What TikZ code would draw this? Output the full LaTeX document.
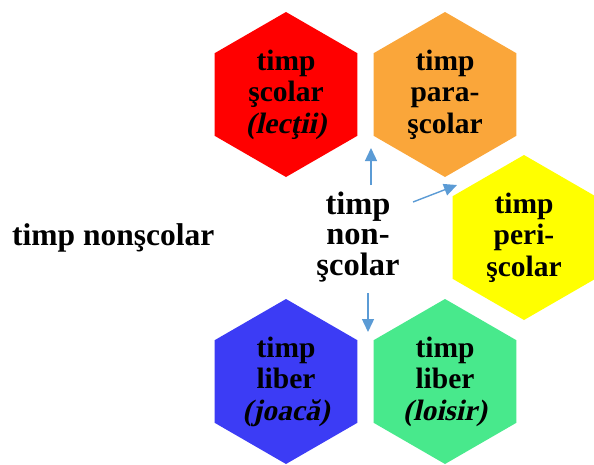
\documentclass[tikz,border=0pt]{standalone}
\usepackage{fontspec}
\setmainfont{Liberation Serif}[
  BoldItalicFont={Liberation Serif Bold},
  BoldItalicFeatures={FakeSlant=0.22}]
\usetikzlibrary{shapes.geometric,arrows.meta}
\definecolor{hred}{RGB}{255,0,0}
\definecolor{horange}{RGB}{250,166,58}
\definecolor{hyellow}{RGB}{255,255,0}
\definecolor{hblue}{RGB}{60,60,245}
\definecolor{hgreen}{RGB}{72,233,140}
\definecolor{arrblue}{RGB}{91,155,213}
\tikzset{
  hexa/.style={regular polygon, regular polygon sides=6, shape border rotate=30,
    minimum size=165pt, inner sep=0pt, align=center,
    font=\fontsize{29.5}{31.5}\selectfont\bfseries},
  arr/.style={draw=arrblue, line width=1.4pt, -{Triangle[length=13pt,width=12pt]}},
  bigtxt/.style={font=\fontsize{32.5}{30.5}\selectfont\bfseries, align=center, inner sep=2pt}
}
\begin{document}
\begin{tikzpicture}[x=1pt,y=-1pt]
\useasboundingbox (0,0) rectangle (594,464);
\node[hexa, fill=hred] (scolar) at (286,94.5) {timp\\şcolar\\\textit{(lecţii)}};
\node[hexa, fill=horange] (para) at (445,94.5) {timp\\para-\\şcolar};
\node[hexa, fill=hyellow] (peri) at (524,237.5) {timp\\peri-\\şcolar};
\node[hexa, fill=hblue] (joaca) at (286,381.5) {timp\\liber\\\textit{(joacă)}};
\node[hexa, fill=hgreen] (loisir) at (445,381.5) {timp\\liber\\\textit{(loisir)}};
\node[bigtxt] (ctr) at (358,237) {timp\\non-\\şcolar};
\node[font=\fontsize{31.5}{31.5}\selectfont\bfseries, anchor=base west, inner sep=0pt] (left) at (12,245) {timp nonşcolar};
\coordinate (s1) at (371,185);
\coordinate (t1) at (371,148);
\coordinate (s2) at (413,202);
\coordinate (t2) at (457,185);
\coordinate (s3) at (368,293);
\coordinate (t3) at (368,332);
\draw[arr] (s1) -- (t1);
\draw[arr] (s2) -- (t2);
\draw[arr] (s3) -- (t3);
\end{tikzpicture}
\end{document}
